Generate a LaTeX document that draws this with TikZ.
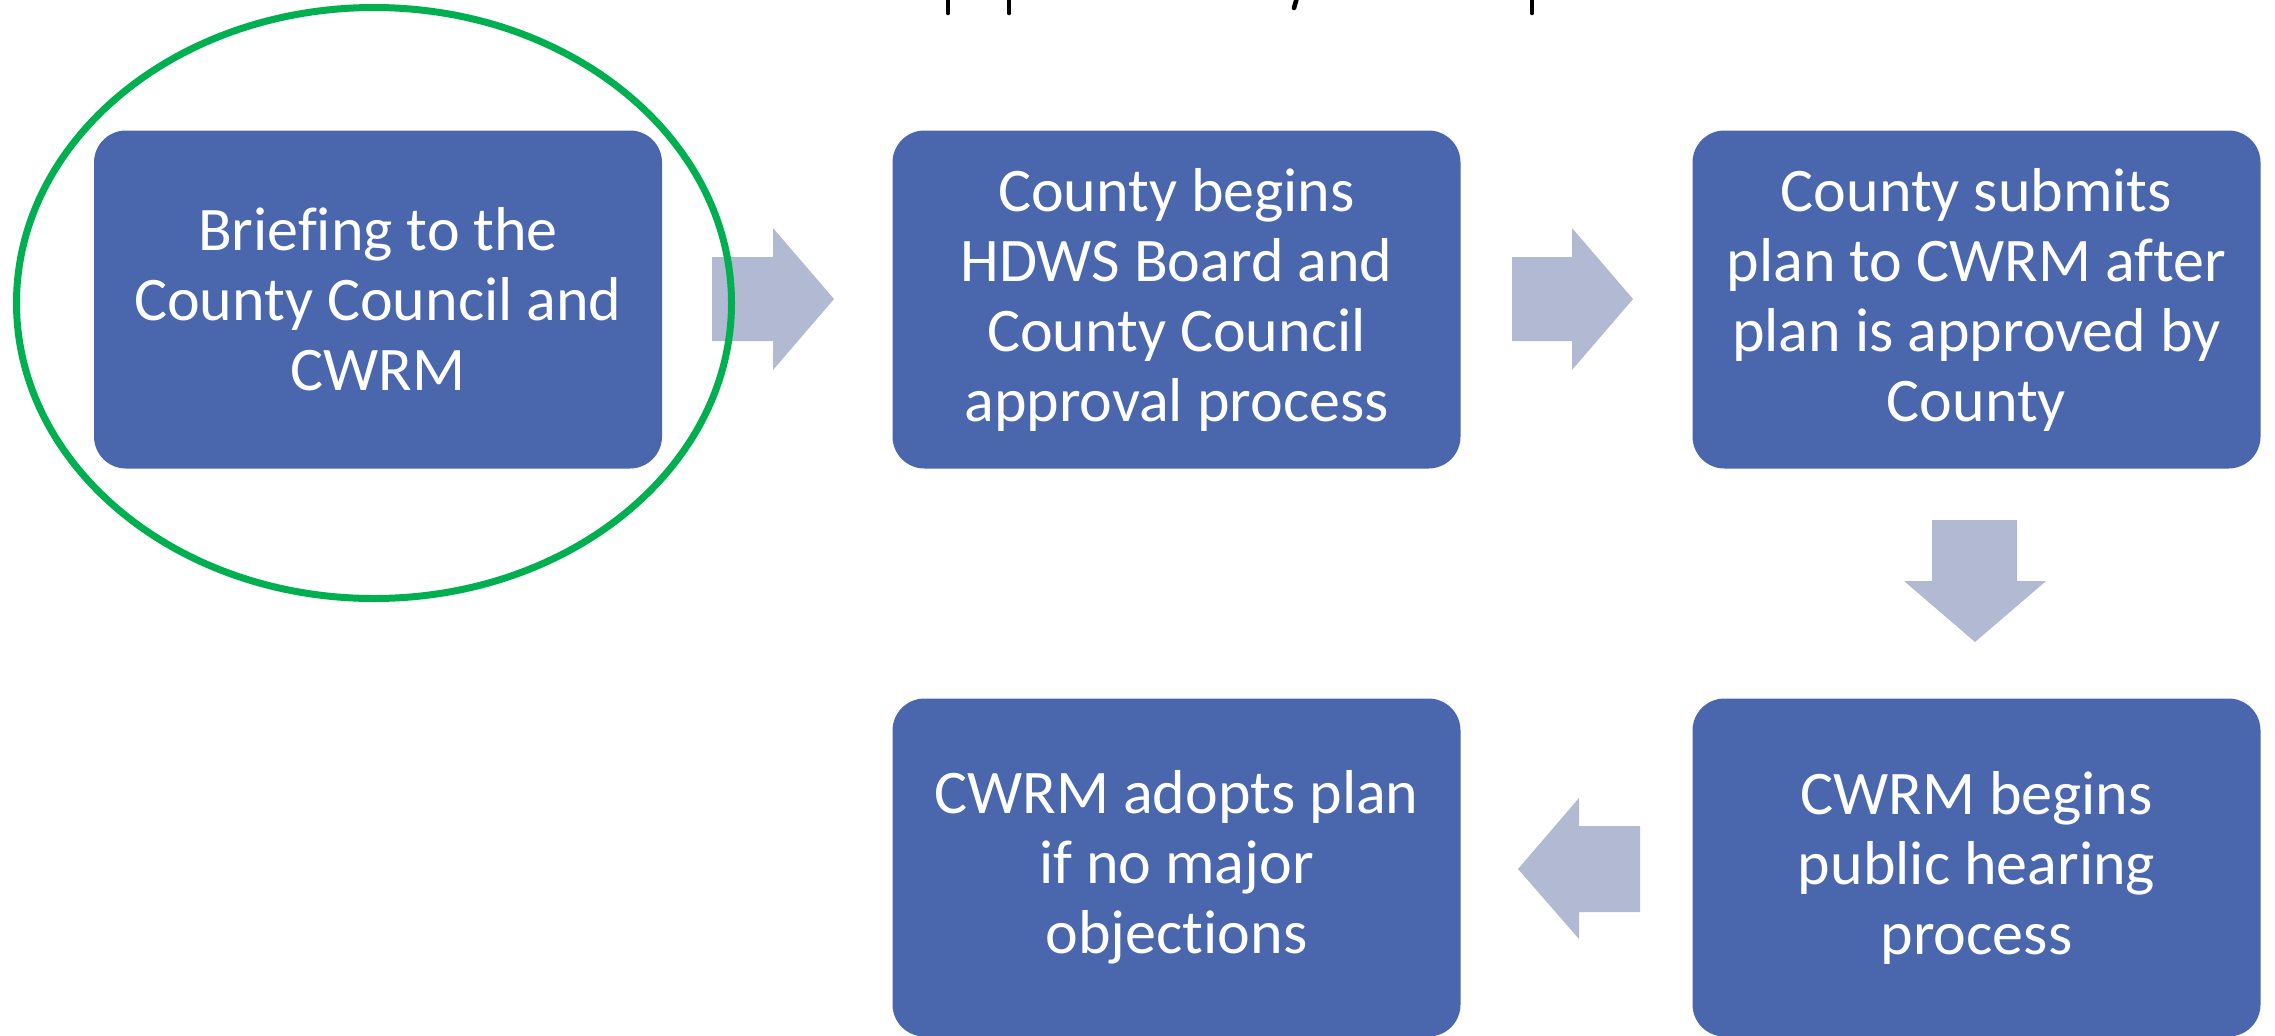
\documentclass[tikz,border=0pt]{standalone}
\usepackage{fontspec}
\setmainfont{Carlito}[Ligatures={NoCommon}]
\definecolor{boxblue}{HTML}{4A66AC}
\definecolor{arrowgray}{HTML}{B1B9D3}
\definecolor{ringgreen}{HTML}{00B050}
\begin{document}
\begin{tikzpicture}[x=0.5pt,y=-0.5pt,
  stepbox/.style={draw=none, fill=boxblue, rounded corners=16pt,
    minimum width=284pt, minimum height=169pt, inner sep=0pt,
    text=white, align=center, font=\fontsize{31}{35}\selectfont},
  blockarrow/.style={fill=arrowgray, draw=none},
  ring/.style={draw=ringgreen, line width=3.5pt},
  titlemark/.style={draw=black, line width=2.3pt, line cap=round}
]
\useasboundingbox (0,0) rectangle (2275,1035);

% boxes
\node[stepbox] (b1) at (378,299.5) {Briefing to the\\County Council and\\CWRM};
\node[stepbox] (b2) at (1176.5,299.5) {County begins\\HDWS Board and\\County Council\\approval process};
\node[stepbox] (b3) at (1976.5,299.5) {County submits\\plan to CWRM after\\plan is approved by\\County};
\node[stepbox] (b5) at (1976.5,867.5) {CWRM begins\\public hearing\\process};
\node[stepbox] (b4) at (1176.5,867.5) {CWRM adopts plan\\if no major\\objections};

% block arrows
\fill[blockarrow] (712,257) -- (773,257) -- (773,228) -- (834,299) -- (773,370) -- (773,341) -- (712,341) -- cycle;
\fill[blockarrow] (1512,257) -- (1572,257) -- (1572,228) -- (1633,299) -- (1572,370) -- (1572,341) -- (1512,341) -- cycle;
\fill[blockarrow] (1932,520) -- (2017,520) -- (2017,581) -- (2046,581) -- (1975,642) -- (1904,581) -- (1932,581) -- cycle;
\fill[blockarrow] (1640,826) -- (1579,826) -- (1579,798) -- (1518,869) -- (1579,939) -- (1579,912) -- (1640,912) -- cycle;

% highlight ring
\draw[ring] (374,303) ellipse [x radius=178.75pt, y radius=147.75pt];

% cut-off title descenders
\draw[titlemark] (948,-6) -- (948,13);
\draw[titlemark] (1009,-6) -- (1009,13);
\draw[titlemark] (1298,-6) -- (1294,8);
\draw[titlemark] (1532,-6) -- (1532,13);
\end{tikzpicture}
\end{document}
